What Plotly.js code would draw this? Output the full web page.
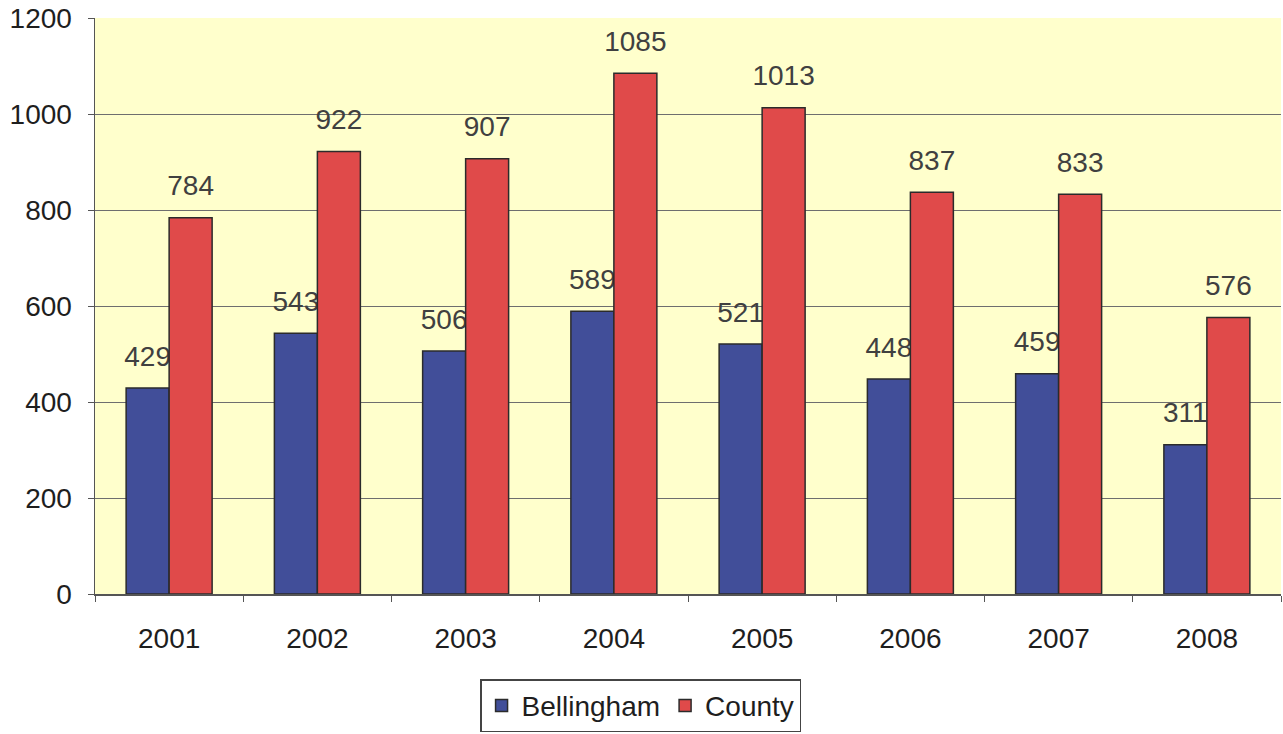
<!DOCTYPE html>
<html>
<head>
<meta charset="utf-8">
<script src="https://cdn.plot.ly/plotly-3.0.1.min.js"></script>
<style>
  html, body { margin: 0; padding: 0; background: #ffffff; }
  #chart { width: 1283px; height: 734px; }
</style>
</head>
<body>
<div id="chart"></div>
<script>
// Yearly counts, Bellingham vs. the whole County
const years = ['2001', '2002', '2003', '2004', '2005', '2006', '2007', '2008'];
const bellingham = [429, 543, 506, 589, 521, 448, 459, 311];
const county = [784, 922, 907, 1085, 1013, 837, 833, 576];
const yTicks = [0, 200, 400, 600, 800, 1000, 1200];

const BLUE = '#414e99';
const RED = '#e04a4a';
const LABEL_FONT = { family: 'Liberation Sans, Arial, sans-serif', size: 28, color: '#404040' };

// Bars live on an overlaying y axis so they are painted above the value labels
function barTrace(name, values, color, group) {
  return {
    type: 'bar', name: name, x: years, y: values,
    xaxis: 'x', yaxis: 'y2', offsetgroup: group,
    marker: { color: color, line: { color: '#2b2b2b', width: 1.5 } },
    hoverinfo: 'x+y+name'
  };
}

// Value labels sit above each bar, lifted by an invisible marker
function labelTrace(values, group) {
  return {
    type: 'scatter', mode: 'markers+text', x: years, y: values,
    xaxis: 'x', yaxis: 'y', offsetgroup: group,
    text: values.map(String), textposition: 'top center',
    textfont: LABEL_FONT,
    marker: { size: 23, color: 'rgba(0,0,0,0)' },
    showlegend: false, hoverinfo: 'skip', cliponaxis: false
  };
}

const data = [
  labelTrace(bellingham, 'a'),
  labelTrace(county, 'b'),
  barTrace('Bellingham', bellingham, BLUE, 'a'),
  barTrace('County', county, RED, 'b')
];

const layout = {
  width: 1283, height: 734,
  margin: { l: 95, r: 2, t: 18, b: 140, autoexpand: false },
  paper_bgcolor: '#ffffff',
  plot_bgcolor: '#ffffcc',
  font: { family: 'Liberation Sans, Arial, sans-serif', size: 28, color: '#1e1e1e' },
  barmode: 'group', bargap: 0.42, bargroupgap: 0,
  scattermode: 'group', scattergap: 0.42,
  showlegend: true,
  xaxis: {
    type: 'category', categoryorder: 'array', categoryarray: years,
    tickson: 'boundaries', ticks: 'outside', ticklen: 6, tickcolor: '#555',
    showline: true, linecolor: '#555', linewidth: 1.5,
    showgrid: false, ticklabelstandoff: 19,
    tickfont: { size: 28, color: '#1e1e1e' }
  },
  yaxis: {
    range: [0, 1200], tickvals: yTicks, ticks: 'outside', ticklen: 6, tickcolor: '#555',
    showline: true, linecolor: '#555', linewidth: 1.5,
    showgrid: true, gridcolor: '#6e6e6e', gridwidth: 1,
    zeroline: false, ticklabelstandoff: 10,
    tickfont: { size: 28, color: '#1e1e1e' }
  },
  yaxis2: {
    overlaying: 'y', range: [0, 1200], visible: false, showgrid: false
  },
  legend: {
    orientation: 'h', x: 0.46, xanchor: 'center', y: -0.148, yanchor: 'top',
    bgcolor: '#ffffff', bordercolor: '#444', borderwidth: 1.5,
    font: { size: 28, color: '#1e1e1e' }, itemwidth: 30
  }
};

Plotly.newPlot('chart', data, layout, { displayModeBar: false, staticPlot: true });
</script>
</body>
</html>
